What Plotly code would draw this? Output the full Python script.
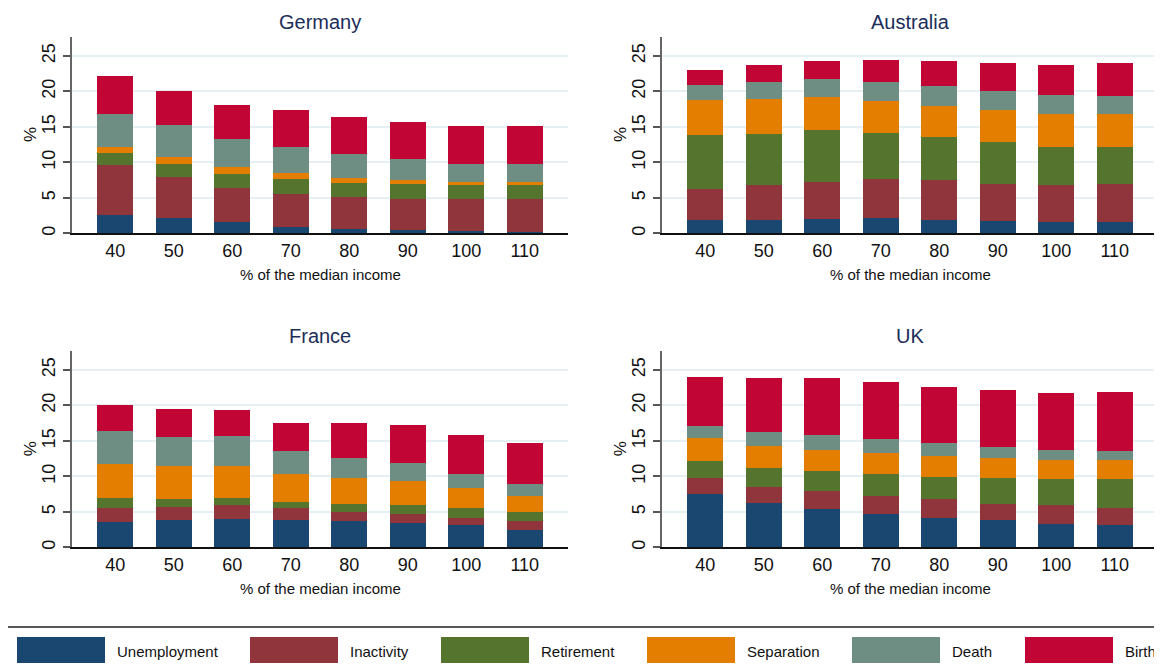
import plotly.graph_objects as go

# the page body adds an 8px margin, so the figure is drawn 8px smaller
OFF = 8
W, H = 1162 - OFF, 670 - OFF

incomes = ["40", "50", "60", "70", "80", "90", "100", "110"]
causes = ["Unemployment", "Inactivity", "Retirement", "Separation", "Death", "Birth"]
colors = ["#1a476f", "#90353b", "#55752f", "#e37e00", "#6e8e84", "#c10534"]
countries = ["Germany", "Australia", "France", "UK"]

# Germany
de_unemployment = [2.55, 2.1, 1.55, 0.85, 0.6, 0.42, 0.28, 0.14]
de_inactivity = [7.05, 5.8, 4.9, 4.75, 4.45, 4.38, 4.5, 4.64]
de_retirement = [1.65, 1.9, 1.95, 2.1, 2.1, 2.1, 1.96, 1.96]
de_separation = [0.85, 0.9, 0.9, 0.8, 0.7, 0.55, 0.42, 0.42]
de_death = [4.75, 4.6, 4.05, 3.6, 3.35, 2.95, 2.67, 2.54]
de_birth = [5.35, 4.8, 4.75, 5.3, 5.2, 5.33, 5.34, 5.47]

# Australia
au_unemployment = [1.85, 1.85, 1.95, 2.1, 1.85, 1.7, 1.55, 1.55]
au_inactivity = [4.45, 4.9, 5.35, 5.5, 5.6, 5.3, 5.2, 5.35]
au_retirement = [7.6, 7.3, 7.3, 6.6, 6.15, 5.8, 5.45, 5.3]
au_separation = [4.95, 4.9, 4.65, 4.5, 4.4, 4.6, 4.65, 4.65]
au_death = [2.05, 2.4, 2.5, 2.65, 2.8, 2.7, 2.65, 2.55]
au_birth = [2.15, 2.35, 2.55, 3.1, 3.5, 3.9, 4.2, 4.6]

# France
fr_unemployment = [3.55, 3.9, 4.05, 3.9, 3.65, 3.5, 3.1, 2.5]
fr_inactivity = [2.05, 1.85, 1.85, 1.7, 1.4, 1.25, 1.1, 1.15]
fr_retirement = [1.4, 1.1, 1.1, 0.85, 1.1, 1.25, 1.4, 1.4]
fr_separation = [4.8, 4.65, 4.5, 3.85, 3.65, 3.4, 2.8, 2.25]
fr_death = [4.6, 4.05, 4.2, 3.3, 2.8, 2.5, 1.95, 1.65]
fr_birth = [3.65, 3.95, 3.65, 3.9, 4.95, 5.35, 5.5, 5.75]

# UK
uk_unemployment = [7.55, 6.3, 5.45, 4.75, 4.2, 3.8, 3.35, 3.2]
uk_inactivity = [2.25, 2.25, 2.55, 2.55, 2.55, 2.35, 2.55, 2.4]
uk_retirement = [2.4, 2.65, 2.8, 3.05, 3.2, 3.65, 3.8, 4.1]
uk_separation = [3.2, 3.1, 2.95, 2.95, 2.95, 2.8, 2.65, 2.65]
uk_death = [1.7, 1.95, 2.1, 2.0, 1.8, 1.55, 1.4, 1.25]
uk_birth = [6.85, 7.6, 8.0, 8.0, 7.85, 8.0, 8.0, 8.25]

series = {
    "Germany": [de_unemployment, de_inactivity, de_retirement, de_separation, de_death, de_birth],
    "Australia": [au_unemployment, au_inactivity, au_retirement, au_separation, au_death, au_birth],
    "France": [fr_unemployment, fr_inactivity, fr_retirement, fr_separation, fr_death, fr_birth],
    "UK": [uk_unemployment, uk_inactivity, uk_retirement, uk_separation, uk_death, uk_birth],
}

FONT = "Liberation Sans, Arial, Helvetica, sans-serif"


def px(x):
    return (x - OFF) / W


def py(y):
    return 1 - (y - OFF) / H


def label(text, x, y, size, color="#111", angle=0, xanchor="center"):
    return dict(text=text, x=px(x), y=py(y), xref="paper", yref="paper",
                xanchor=xanchor, yanchor="middle", showarrow=False, textangle=angle,
                font=dict(size=size, color=color, family=FONT))


# panel boxes in window pixels: (left, right, top, bottom)
boxes = [(72, 568, 37, 234), (662, 1158, 37, 234), (72, 568, 352, 549), (662, 1158, 352, 549)]

fig = go.Figure()
annotations = []
shapes = []

for i, (country, box) in enumerate(zip(countries, boxes)):
    n = "" if i == 0 else str(i + 1)
    l, r, t, b = box
    for cause, col, vals in zip(causes, colors, series[country]):
        fig.add_bar(x=incomes, y=vals, name=cause, marker_color=col,
                    marker_line_width=0, showlegend=False,
                    xaxis="x" + n, yaxis="y" + n)
    fig.layout["xaxis" + n] = dict(
        domain=[px(l), px(r)], anchor="y" + n, type="category",
        range=[-0.74, 7.74], showline=True, linecolor="#111", linewidth=1.5,
        ticks="", showgrid=False, ticklabelstandoff=0,
        tickfont=dict(size=18, color="#111", family=FONT),
    )
    fig.layout["yaxis" + n] = dict(
        domain=[py(b), py(t)], anchor="x" + n, range=[0, 27.67],
        tickvals=[0, 5, 10, 15, 20, 25], ticks="outside", ticklen=7,
        tickcolor="#555", tickwidth=1.5, showline=True, linecolor="#666",
        linewidth=1.5, gridcolor="#e6eff1", gridwidth=1.5, zeroline=False,
        tickangle=-90, ticklabelstandoff=1,
        tickfont=dict(size=18, color="#111", family=FONT),
    )
    cx = (l + r) / 2
    annotations.append(label(country, cx, t - 15, 20, color="#1c2d5a"))
    annotations.append(label("%", l - 42, (t + b) / 2, 17, angle=-90))
    annotations.append(label("% of the median income", cx, b + 41, 15))

# legend box drawn by hand, Stata style
shapes.append(dict(type="rect", xref="paper", yref="paper", x0=px(7), x1=px(1180),
                   y0=py(690), y1=py(629), line=dict(color="#222", width=1.5),
                   fillcolor="rgba(0,0,0,0)"))
swatch_left = [17, 250, 441, 647, 852, 1025]
for cause, col, x0 in zip(causes, colors, swatch_left):
    shapes.append(dict(type="rect", xref="paper", yref="paper", x0=px(x0), x1=px(x0 + 88),
                       y0=py(665), y1=py(639), line=dict(width=0), fillcolor=col))
    annotations.append(label(cause, x0 + 98, 653, 15, xanchor="left"))

fig.update_layout(
    width=W, height=H, margin=dict(l=0, r=0, t=0, b=0),
    barmode="stack", bargap=0.385,
    plot_bgcolor="white", paper_bgcolor="white",
    annotations=annotations, shapes=shapes,
    font=dict(family=FONT),
)

fig.write_html("out.html")
